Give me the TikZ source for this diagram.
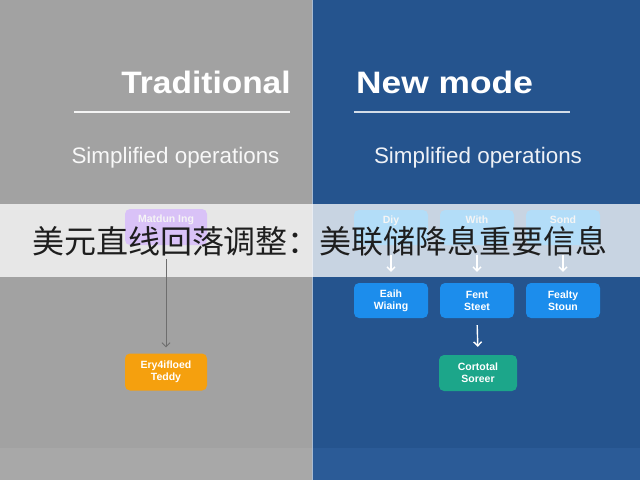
\documentclass[tikz,border=0pt]{standalone}
\usepackage{fontspec}
\setmainfont{Liberation Sans}
\newfontfamily\titlefont[FakeStretch=1.08]{Liberation Sans}
\newfontfamily\titlefontb[FakeStretch=1.14]{Liberation Sans}
\newfontfamily\cjkfont{Noto Sans CJK SC}
\usetikzlibrary{arrows.meta}
\definecolor{leftbg}{HTML}{A2A2A2}
\definecolor{leftbgb}{HTML}{A8A8A8}
\definecolor{rightbg}{HTML}{25548E}
\definecolor{rightbgb}{HTML}{2B5B97}
\definecolor{purplebox}{HTML}{D9C2F7}
\definecolor{lightbluebox}{HTML}{B3DDF8}
\definecolor{bluebox}{HTML}{1C8DEC}
\definecolor{greenbox}{HTML}{1CA68A}
\definecolor{orangebox}{HTML}{F5A00E}
\definecolor{grayarrow}{HTML}{6E6E6E}
\definecolor{bannertext}{HTML}{1E1E1E}
\tikzset{
  box/.style={rounded corners=5pt, text=white, align=center, inner sep=1pt,
    font=\bfseries\fontsize{10.5}{12}\selectfont},
  washed/.style={rounded corners=5pt, inner sep=0pt},
  washedlabel/.style={text=white!92!gray, inner sep=0pt, anchor=base,
    font=\bfseries\fontsize{10.5}{12}\selectfont},
  titletext/.style={text=white, inner sep=0pt, font=\titlefont\bfseries\fontsize{31}{36}\selectfont},
  subtext/.style={inner sep=0pt, font=\fontsize{22.4}{26}\selectfont},
  warrow/.style={draw=white, line width=1.4pt, -{Straight Barb[length=4pt,width=8pt]}},
  garrow/.style={draw=grayarrow, line width=0.9pt, -{Straight Barb[length=4pt,width=8pt]}}
}
\begin{document}
\begin{tikzpicture}[x=1pt,y=-1pt]
\useasboundingbox (0,0) rectangle (640,480);
% backgrounds
\fill[leftbg] (0,0) rectangle (312,448);
\fill[leftbgb] (0,448) rectangle (312,480);
\fill[rightbg] (312,0) rectangle (640,448);
\fill[rightbgb] (312,448) rectangle (640,480);
\draw[color=white!60!rightbg, line width=0.8pt] (312.4,0) -- (312.4,480);
% titles
\node[titletext, anchor=base] (ttrad) at (206,93) {Traditional};
\node[titletext, font=\titlefontb\bfseries\fontsize{31}{36}\selectfont, anchor=base west] (tnew) at (356,93) {New mode};
\coordinate (l1a) at (74,112); \coordinate (l1b) at (290,112);
\coordinate (l2a) at (354,112); \coordinate (l2b) at (570,112);
\draw[color=white!88!leftbg, line width=2pt] (l1a) -- (l1b);
\draw[color=white!80!rightbg, line width=2pt] (l2a) -- (l2b);
\node[subtext, text=white!92!leftbg, anchor=base] (sl) at (175.5,163) {Simplified operations};
\node[subtext, text=white!92!rightbg, anchor=base] (sr) at (478,163) {Simplified operations};
% lower boxes
\node[box, fill=orangebox, minimum width=82pt, minimum height=37pt] (t2) at (166,372) {Ery4ifloed\\Teddy};
\node[box, fill=bluebox, minimum width=74pt, minimum height=35pt] (m1) at (391,300.5) {Eaih\\Wiaing};
\node[box, fill=bluebox, minimum width=74pt, minimum height=35pt] (m2) at (477,300.5) {Fent\\Steet};
\node[box, fill=bluebox, minimum width=74pt, minimum height=35pt] (m3) at (563,300.5) {Fealty\\Stoun};
\node[box, fill=greenbox, minimum width=78pt, minimum height=36pt] (g) at (478,373) {Cortotal\\Soreer};
% banner
\fill[white, opacity=0.75] (0,204) rectangle (640,277);
% top boxes (washed under banner)
\node[washed, fill=purplebox, minimum width=82pt, minimum height=36pt] (t1) at (166,227) {};
\node[washed, fill=lightbluebox, minimum width=74pt, minimum height=35pt] (n1) at (391,227.5) {};
\node[washed, fill=lightbluebox, minimum width=74pt, minimum height=35pt] (n2) at (477,227.5) {};
\node[washed, fill=lightbluebox, minimum width=74pt, minimum height=35pt] (n3) at (563,227.5) {};
\node[washedlabel] (t1l) at ([yshift=-14pt]t1.north) {Matdun Ing};
\node[washedlabel] (n1l) at ([yshift=-14pt]n1.north) {Diy};
\node[washedlabel] (n2l) at ([yshift=-14pt]n2.north) {With};
\node[washedlabel] (n3l) at ([yshift=-14pt]n3.north) {Sond};
% arrows
\draw[garrow, shorten <=14pt, shorten >=6pt] (t1.south) -- (t2.north);
\draw[warrow, shorten <=10pt, shorten >=11pt] (n1.south) -- (m1.north);
\draw[warrow, shorten <=10pt, shorten >=11pt] (n2.south) -- (m2.north);
\draw[warrow, shorten <=10pt, shorten >=11pt] (n3.south) -- (m3.north);
\draw[warrow, shorten <=7pt, shorten >=8pt] (m2.south) -- (g.north);
% banner text
\node[text=bannertext, inner sep=0pt, font=\cjkfont\fontsize{32}{36}\selectfont] (banner) at (320,241) {美元直线回落调整：美联储降息重要信息};
\end{tikzpicture}
\end{document}
